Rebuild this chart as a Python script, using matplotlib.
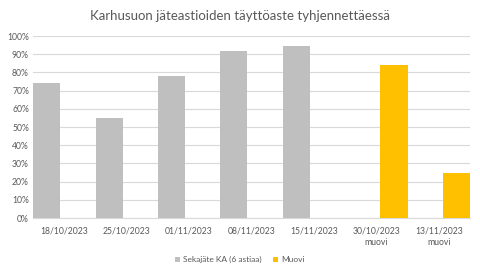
import matplotlib
matplotlib.use("Agg")
import matplotlib.pyplot as plt
import numpy as np

categories = ["18/10/2023", "25/10/2023", "01/11/2023", "08/11/2023", "15/11/2023",
              "30/10/2023\nmuovi", "13/11/2023\nmuovi"]
sekajate = [74, 55, 78, 92, 94.5, 0, 0]
muovi = [0, 0, 0, 0, 0, 84, 25]
yticks = [0, 10, 20, 30, 40, 50, 60, 70, 80, 90, 100]

plt.rcParams['font.family'] = ['Lato', 'DejaVu Sans']
fig = plt.figure(figsize=(4.8, 2.75), dpi=100)
ax = fig.add_axes([0.069, 0.207, 0.91, 0.662])

x = np.arange(len(categories))
w = 0.435
off = 0.2825
ax.bar(x - off, sekajate, width=w, color="#BFBFBF", label="Sekajäte KA (6 astiaa)", zorder=3)
ax.bar(x + off, muovi, width=w, color="#FFC000", label="Muovi", zorder=3)

ax.set_xlim(-0.5, len(categories) - 0.5)
ax.set_ylim(0, 100)
ax.set_yticks(yticks)
ax.set_yticklabels([f"{v}%" for v in yticks])
ax.set_xticks(x)
ax.set_xticklabels(categories, linespacing=1.3)
ax.tick_params(axis='both', length=0, labelsize=6.2, colors="#595959")
ax.tick_params(axis='x', pad=6)
ax.tick_params(axis='y', pad=3)
ax.grid(axis='y', color="#D9D9D9", linewidth=0.8, zorder=0)
for s in ["top", "right", "left"]:
    ax.spines[s].set_visible(False)
ax.spines["bottom"].set_color("#D9D9D9")
ax.spines["bottom"].set_linewidth(0.8)

fig.suptitle("Karhusuon jäteastioiden täyttöaste tyhjennettäessä", x=0.5, y=0.965,
             fontsize=9.5, color="#595959")
leg = fig.legend(loc="center", bbox_to_anchor=(0.5, 0.055), ncol=2, frameon=False,
                 fontsize=6, handlelength=0.6, handleheight=0.6, handletextpad=0.4,
                 columnspacing=1.4)
for t in leg.get_texts():
    t.set_color("#595959")

fig.savefig("out.png", dpi=100)
